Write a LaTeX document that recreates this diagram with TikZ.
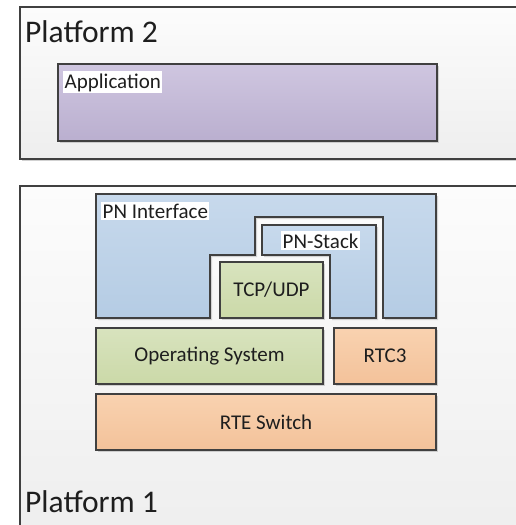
\documentclass[tikz,border=0pt]{standalone}
\usepackage{fontspec}
\setmainfont{Carlito}
\usetikzlibrary{shadows}

\definecolor{edge}{RGB}{64,64,64}
\definecolor{ink}{RGB}{30,30,30}
\definecolor{frametop}{RGB}{252,252,252}
\definecolor{framebot}{RGB}{238,238,238}
\definecolor{apptop}{RGB}{207,198,224}
\definecolor{appbot}{RGB}{186,175,207}
\definecolor{pntop}{RGB}{199,217,236}
\definecolor{pnbot}{RGB}{181,204,228}
\definecolor{grntop}{RGB}{216,227,190}
\definecolor{grnbot}{RGB}{203,217,168}
\definecolor{orgtop}{RGB}{249,210,176}
\definecolor{orgbot}{RGB}{243,194,154}

\tikzset{
  frame/.style={draw=edge, line width=1.6pt, top color=frametop, bottom color=framebot,
    drop shadow={shadow xshift=2pt, shadow yshift=-2pt, opacity=0.18, fill=black}},
  layer/.style={draw=edge, line width=1.6pt,
    drop shadow={shadow xshift=2pt, shadow yshift=-2pt, opacity=0.15, fill=black}},
  applayer/.style={layer, top color=apptop, bottom color=appbot},
  pnlayer/.style={layer, top color=pntop, bottom color=pnbot},
  grnlayer/.style={layer, top color=grntop, bottom color=grnbot},
  orglayer/.style={layer, top color=orgtop, bottom color=orgbot},
  boxtext/.style={text=ink, font=\fontsize{21}{25}\selectfont, inner sep=0pt},
  tag/.style={boxtext, fill=white, inner xsep=1.5pt, inner ysep=2pt, anchor=base west},
  platlabel/.style={text=ink, font=\fontsize{31.5}{37}\selectfont, inner sep=0pt, anchor=base west}
}

\begin{document}
\begin{tikzpicture}[x=1pt, y=-1pt]
  \useasboundingbox (0,0) rectangle (516,525);
  \clip (0,0) rectangle (516,525);
  \fill[white] (0,0) rectangle (516,525);

  % Platform 2
  \path[frame] (20,7) rectangle (540,159);
  \node[platlabel] (p2) at (25,42.5) {Platform 2};
  \path[applayer] (58,64) rectangle (437,141);
  \node[tag] (app) at (63,88) {Application};

  % Platform 1
  \path[frame] (20,186) rectangle (540,545);
  \node[platlabel] (p1) at (25,512) {Platform 1};

  % PN Interface with the notch for the stack
  \path[pnlayer] (96,194) -- (436,194) -- (436,318) -- (383,318) -- (383,217)
    -- (255,217) -- (255,255) -- (210,255) -- (210,318) -- (96,318) -- cycle;
  \node[tag] (pnif) at (101,218) {PN Interface};

  % PN-Stack (L-shaped)
  \path[pnlayer] (262,225) -- (376,225) -- (376,318) -- (330,318) -- (330,255)
    -- (262,255) -- cycle;
  \node[tag] (pnstack) at (281,248) {PN-Stack};

  % TCP/UDP
  \path[grnlayer] (220,262) rectangle node[boxtext] (tcp) {TCP/UDP} (323,318);

  % Operating system and RTC3
  \path[grnlayer] (96,328) rectangle node[boxtext] (os) {Operating System} (323,384);
  \path[orglayer] (334,328) rectangle node[boxtext] (rtc) {RTC3} (436,384);

  % RTE Switch
  \path[orglayer] (96,394) rectangle node[boxtext] (rte) {RTE Switch} (436,450);
\end{tikzpicture}
\end{document}
